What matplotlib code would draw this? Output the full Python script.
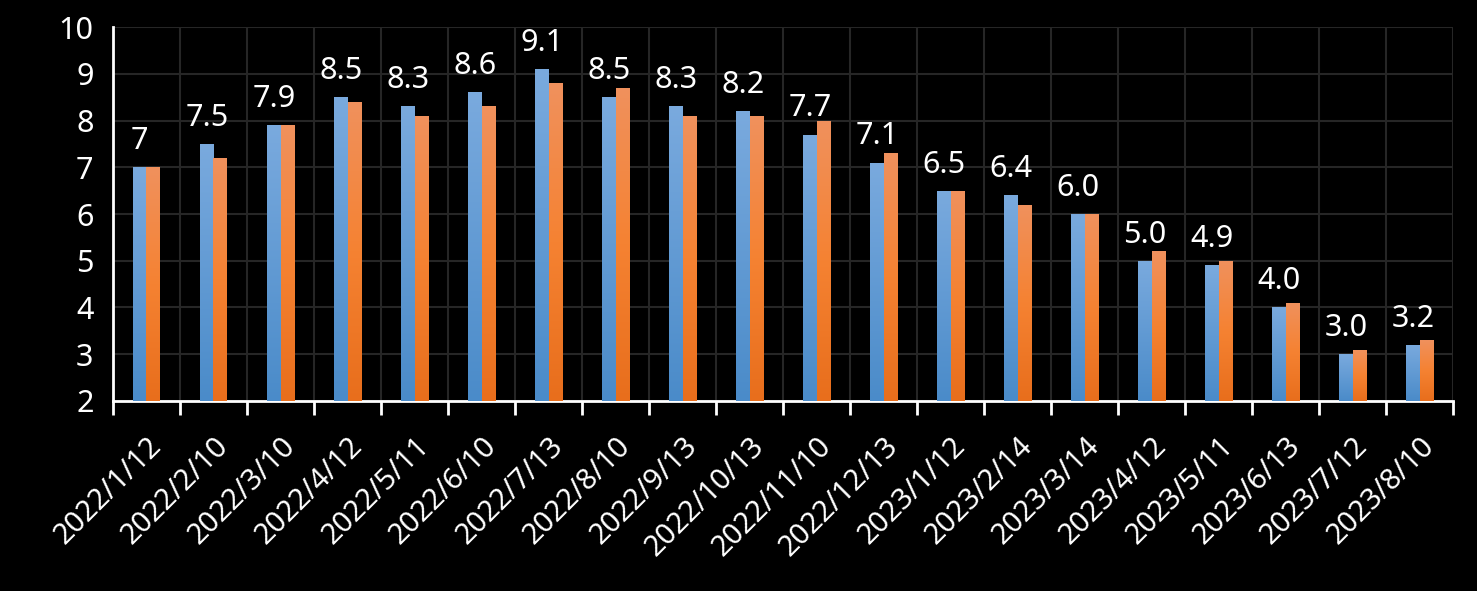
import numpy as np
import matplotlib
matplotlib.use("Agg")
import matplotlib.pyplot as plt
from matplotlib.colors import LinearSegmentedColormap

plt.rcParams['font.family'] = ['Noto Sans', 'DejaVu Sans']

dates = ["2022/1/12", "2022/2/10", "2022/3/10", "2022/4/12", "2022/5/11",
         "2022/6/10", "2022/7/13", "2022/8/10", "2022/9/13", "2022/10/13",
         "2022/11/10", "2022/12/13", "2023/1/12", "2023/2/14", "2023/3/14",
         "2023/4/12", "2023/5/11", "2023/6/13", "2023/7/12", "2023/8/10"]
series_a = [7.0, 7.5, 7.9, 8.5, 8.3, 8.6, 9.1, 8.5, 8.3, 8.2,
            7.7, 7.1, 6.5, 6.4, 6.0, 5.0, 4.9, 4.0, 3.0, 3.2]
series_b = [7.0, 7.2, 7.9, 8.4, 8.1, 8.3, 8.8, 8.7, 8.1, 8.1,
            8.0, 7.3, 6.5, 6.2, 6.0, 5.2, 5.0, 4.1, 3.1, 3.3]
labels_a = ["7", "7.5", "7.9", "8.5", "8.3", "8.6", "9.1", "8.5", "8.3", "8.2",
            "7.7", "7.1", "6.5", "6.4", "6.0", "5.0", "4.9", "4.0", "3.0", "3.2"]

fig = plt.figure(figsize=(14.77, 5.91), dpi=100, facecolor='black')
ax = fig.add_axes([0.0765, 0.3215, 0.9073, 0.6328], facecolor='black')

x = np.arange(len(dates))
w = 0.2
base = 2
bars_a = ax.bar(x - w / 2, np.array(series_a) - base, w, bottom=base, color='none', zorder=3)
bars_b = ax.bar(x + w / 2, np.array(series_b) - base, w, bottom=base, color='none', zorder=3)

# gradient fills (light at top, darker at bottom)
blue_cm = LinearSegmentedColormap.from_list('b', ['#4a8bc9', '#7aaade'])
orange_cm = LinearSegmentedColormap.from_list('o', ['#e86e1c', '#f58232', '#f0915d'])
grad = np.linspace(0, 1, 256).reshape(-1, 1)
for bars, cm in [(bars_a, blue_cm), (bars_b, orange_cm)]:
    for b in bars:
        x0 = b.get_x()
        x1 = x0 + b.get_width()
        y0 = b.get_y()
        y1 = y0 + b.get_height()
        im = ax.imshow(grad, cmap=cm, origin='lower', aspect='auto',
                       extent=[x0, x1, y0, y1], zorder=3)
        im.set_clip_path(b)

for xi, v, lab in zip(x, series_a, labels_a):
    ax.annotate(lab, (xi - w / 2, v), xytext=(0, 8), textcoords='offset points',
                ha='center', va='bottom', color='white', fontsize=22, zorder=4)

ax.set_xlim(-0.5, len(dates) - 0.5)
ax.set_ylim(2, 10)
ax.set_yticks(range(2, 11))
ax.tick_params(axis='y', length=0, colors='white', labelsize=22, pad=14)

ax.set_xticks(x)
ax.set_xticklabels(dates, rotation=45, ha='right', rotation_mode='anchor',
                   color='white', fontsize=21)
ax.tick_params(axis='x', which='major', length=0, pad=22)
ax.set_xticks(np.arange(-0.5, len(dates)), minor=True)
ax.tick_params(axis='x', which='minor', length=10, width=2, color='white')

ax.grid(True, axis='y', color='#262626', linewidth=1.5, zorder=0)
ax.grid(True, axis='x', which='minor', color='#262626', linewidth=1.5, zorder=0)
ax.set_axisbelow(True)

for s in ['top', 'right']:
    ax.spines[s].set_visible(False)
for s in ['left', 'bottom']:
    ax.spines[s].set_color('white')
    ax.spines[s].set_linewidth(2)

fig.savefig('out.png', dpi=100, facecolor='black')
